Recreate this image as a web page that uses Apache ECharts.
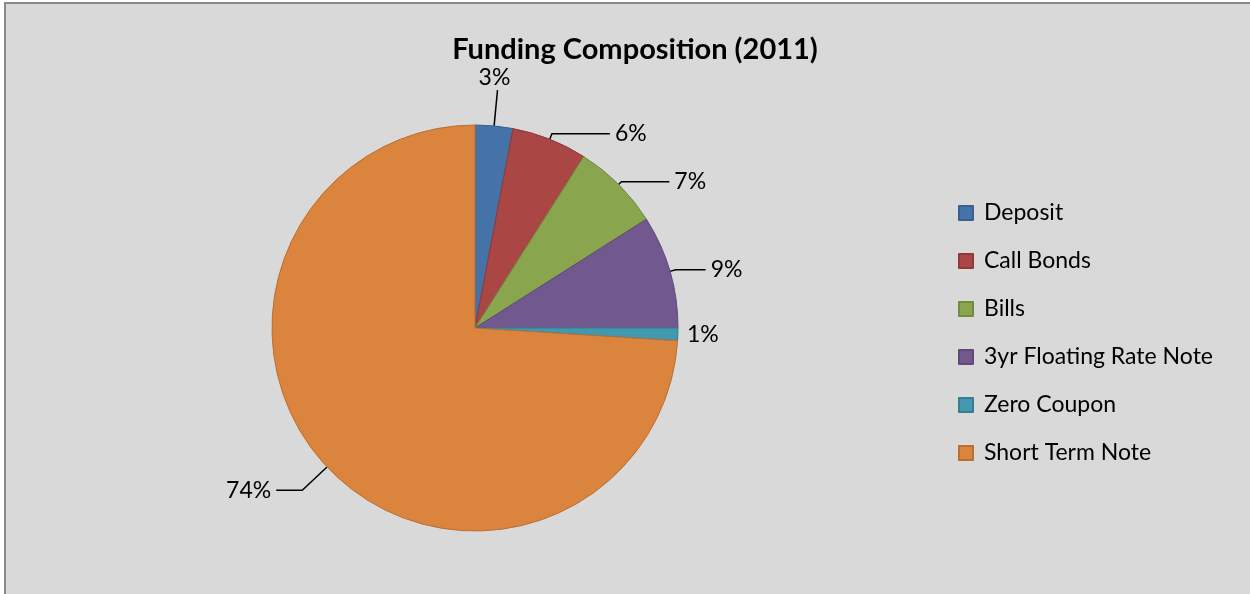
<!DOCTYPE html>
<html>
<head>
<meta charset="utf-8">
<script src="https://cdn.jsdelivr.net/npm/echarts@6/dist/echarts.min.js"></script>
<style>
html,body{margin:0;padding:0;background:#fff;}
#frame{position:absolute;left:4px;top:2px;width:1244px;height:600px;background:#d9d9d9;border-left:2px solid #898989;border-top:2px solid #898989;border-right:2px solid #898989;}
#chart{position:absolute;left:0;top:0;width:1244px;height:592px;}
</style>
</head>
<body>
<div id="frame"><div id="chart"></div></div>
<script>
var categories = ['Deposit', 'Call Bonds', 'Bills', '3yr Floating Rate Note', 'Zero Coupon', 'Short Term Note'];
var values = [3, 6, 7, 9, 1, 74];
var colors = ['#4572A7', '#AA4643', '#89A54E', '#71588F', '#4198AF', '#DB843D'];
var borders = ['#3a6090', '#8f3a37', '#738b41', '#5e4978', '#367f92', '#b86f33'];

var lineLen = [36, 6, 4, 6, 4, 34];
var lineLen2 = [0, 58, 48, 30, 0, 26];

var data = categories.map(function (c, i) {
  return {
    name: c,
    value: values[i],
    itemStyle: { color: colors[i], borderColor: borders[i], borderWidth: 1 },
    labelLine: { show: i !== 4, length: lineLen[i], length2: lineLen2[i] }
  };
});

var chart = echarts.init(document.getElementById('chart'), null, { renderer: 'canvas' });
chart.setOption({
  backgroundColor: '#d9d9d9',
  animation: false,
  title: {
    text: 'Funding Composition (2011)',
    left: 624, top: 26, textAlign: 'center',
    textStyle: { fontFamily: 'Lato, sans-serif', fontWeight: 'bold', fontSize: 29, color: '#000' }
  },
  legend: {
    orient: 'vertical',
    left: 947, top: 191,
    itemWidth: 14, itemHeight: 14, itemGap: 22,
    icon: 'rect',
    textStyle: { fontFamily: 'Lato, sans-serif', fontSize: 23, lineHeight: 26, color: '#000', padding: [0, 0, 0, 6] },
    data: categories
  },
  series: [{
    type: 'pie',
    center: [469, 324],
    radius: 203,
    startAngle: 90,
    clockwise: true,
    avoidLabelOverlap: false,
    label: {
      show: true,
      formatter: function (p) { return p.value + '%'; },
      fontFamily: 'Lato, sans-serif', fontSize: 23, color: '#000'
    },
    labelLine: { lineStyle: { color: '#000', width: 1.5 }, smooth: false },
    labelLayout: function (params) {
      if (params.dataIndex === 0) {
        return { dx: -params.labelRect.width / 2 - 8, dy: -params.labelRect.height / 2 - 1 };
      }
    },
    emphasis: { disabled: true },
    data: data
  }]
});
</script>
</body>
</html>
